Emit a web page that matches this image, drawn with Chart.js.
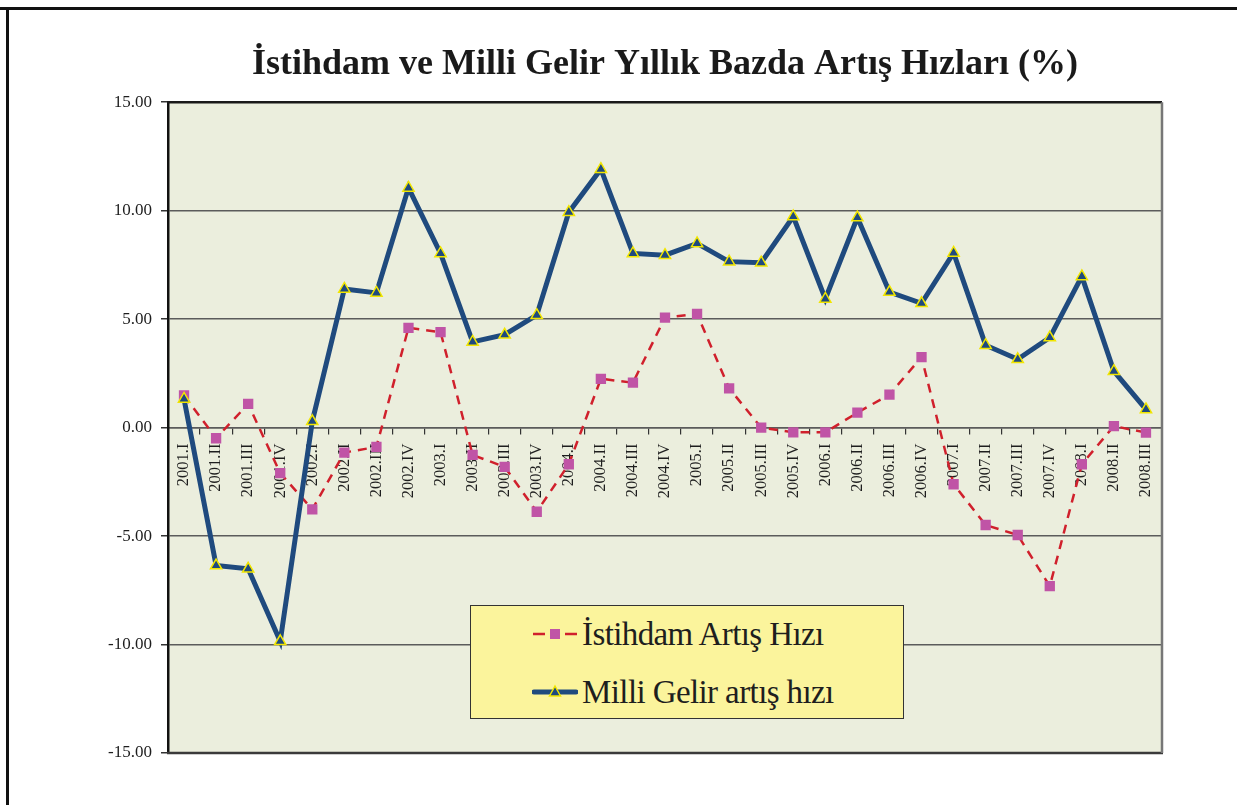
<!DOCTYPE html>
<html>
<head>
<meta charset="utf-8">
<script src="https://cdn.jsdelivr.net/npm/chart.js@4/dist/chart.umd.min.js"></script>
<style>
  html, body { margin: 0; padding: 0; background: #ffffff; }
  #wrap { position: relative; width: 1237px; height: 805px; overflow: hidden; }
  #legend {
    position: absolute; left: 470px; top: 605px; width: 432px; height: 112px;
    background: #FBF49C; border: 1.5px solid #333333;
    font-family: "Liberation Serif", "Times New Roman", serif; color: #1e1e1e;
  }
  .row { position: absolute; left: 0; height: 40px; display: flex; align-items: center; }
  .row svg { margin-left: 61px; margin-right: 4px; }
  .row span { font-size: 33px; letter-spacing: -0.6px; white-space: nowrap; }
</style>
</head>
<body>
<div id="wrap">
  <canvas id="c" width="1237" height="805"></canvas>
  <div id="legend">
    <div class="row" style="top:8px">
      <svg width="46" height="20" viewBox="0 0 46 20">
        <line x1="1" y1="10" x2="13" y2="10" stroke="#D0202C" stroke-width="2.5"></line>
        <line x1="33" y1="10" x2="45" y2="10" stroke="#D0202C" stroke-width="2.5"></line>
        <rect x="18" y="5" width="10" height="10" fill="#C054A6"></rect>
      </svg>
      <span>İstihdam Artış Hızı</span>
    </div>
    <div class="row" style="top:66px">
      <svg width="46" height="20" viewBox="0 0 46 20">
        <line x1="2" y1="10" x2="44" y2="10" stroke="#1F4A7E" stroke-width="5" stroke-linecap="round"></line>
        <polygon points="23,4 28.5,14 17.5,14" fill="#1F4A7E" stroke="#F2E600" stroke-width="1.5"></polygon>
      </svg>
      <span>Milli Gelir artış hızı</span>
    </div>
  </div>
</div>
<script>
const titleText = 'İstihdam ve Milli Gelir Yıllık Bazda Artış Hızları (%)';
const categories = [
  '2001.I','2001.II','2001.III','2001.IV',
  '2002.I','2002.II','2002.III','2002.IV',
  '2003.I','2003.II','2003.III','2003.IV',
  '2004.I','2004.II','2004.III','2004.IV',
  '2005.I','2005.II','2005.III','2005.IV',
  '2006.I','2006.II','2006.III','2006.IV',
  '2007.I','2007.II','2007.III','2007.IV',
  '2008.I','2008.II','2008.III'
];
const istihdamLabel = 'İstihdam Artış Hızı';
const istihdam = [
  1.48, -0.49, 1.09, -2.10,
  -3.77, -1.15, -0.89, 4.60,
  4.40, -1.26, -1.81, -3.88,
  -1.69, 2.25, 2.07, 5.07,
  5.24, 1.81, 0.00, -0.22,
  -0.22, 0.69, 1.52, 3.25,
  -2.61, -4.49, -4.95, -7.31,
  -1.69, 0.07, -0.23
];
const milliGelirLabel = 'Milli Gelir artış hızı';
const milliGelir = [
  1.32, -6.36, -6.51, -9.85,
  0.29, 6.39, 6.21, 11.05,
  8.03, 3.95, 4.28, 5.18,
  9.93, 11.91, 8.03, 7.95,
  8.49, 7.65, 7.60, 9.73,
  5.93, 9.68, 6.25, 5.73,
  8.05, 3.80, 3.15, 4.15,
  6.97, 2.60, 0.84
];
const yMin = -15, yMax = 15, yStep = 5;

const SERIF = '"Liberation Serif", "Times New Roman", serif';

const framePlugin = {
  id: 'frame',
  beforeDraw(chart) {
    const {ctx, chartArea: a} = chart;
    ctx.save();
    ctx.fillStyle = '#EBEEDD';
    ctx.fillRect(a.left, a.top, a.right - a.left, a.bottom - a.top);
    ctx.strokeStyle = '#111111';
    ctx.lineWidth = 3;
    ctx.beginPath();
    ctx.moveTo(0, 8.5); ctx.lineTo(1237, 8.5);
    ctx.moveTo(7.5, 8.5); ctx.lineTo(7.5, 805);
    ctx.stroke();
    ctx.restore();
  },
  afterDraw(chart) {
    const {ctx, chartArea: a} = chart;
    ctx.save();
    ctx.lineWidth = 2.5;
    ctx.strokeStyle = '#1a1a1a';
    ctx.beginPath();
    ctx.moveTo(a.left - 1, a.top); ctx.lineTo(a.right, a.top);
    ctx.stroke();
    ctx.strokeStyle = '#3a3a3a';
    ctx.beginPath();
    ctx.moveTo(a.left - 1, a.bottom); ctx.lineTo(a.right + 1, a.bottom);
    ctx.stroke();
    ctx.strokeStyle = '#777777';
    ctx.beginPath();
    ctx.moveTo(a.right, a.top); ctx.lineTo(a.right, a.bottom);
    ctx.stroke();
    ctx.restore();
  }
};

new Chart(document.getElementById('c'), {
  type: 'line',
  data: {
    labels: categories,
    datasets: [
      {
        label: istihdamLabel,
        data: istihdam,
        order: 1,
        borderColor: '#D0202C',
        borderWidth: 2.5,
        borderDash: [9, 7],
        pointStyle: 'rect',
        pointRadius: 7.3,
        pointBackgroundColor: '#C054A6',
        pointBorderColor: '#C054A6',
        pointBorderWidth: 0,
        tension: 0,
        fill: false
      },
      {
        label: milliGelirLabel,
        data: milliGelir,
        order: 0,
        borderColor: '#1F4A7E',
        borderWidth: 5,
        pointStyle: 'triangle',
        pointRadius: 6.5,
        pointBackgroundColor: '#1F4A7E',
        pointBorderColor: '#F2E600',
        pointBorderWidth: 1.5,
        tension: 0,
        fill: false
      }
    ]
  },
  options: {
    responsive: false,
    animation: false,
    devicePixelRatio: 1,
    layout: { padding: { top: 43, right: 75, bottom: 52, left: 0 } },
    plugins: {
      legend: { display: false },
      tooltip: { enabled: false },
      title: {
        display: true,
        text: titleText,
        fullSize: false,
        color: '#1a1a1a',
        font: { family: SERIF, size: 36, weight: 'bold', lineHeight: 1.2 },
        padding: { top: 0, bottom: 16 }
      }
    },
    scales: {
      x: {
        type: 'category',
        position: { y: 0 },
        offset: true,
        grid: {
          offset: true,
          drawOnChartArea: false,
          drawTicks: true,
          tickLength: 6,
          color: '#333333',
          lineWidth: 1.2
        },
        border: { display: true, color: '#5b5b5b', width: 1.5 },
        ticks: {
          autoSkip: false,
          maxRotation: 90,
          minRotation: 90,
          padding: 10,
          color: '#1e1e1e',
          font: { family: SERIF, size: 16.5 }
        }
      },
      y: {
        min: yMin,
        max: yMax,
        afterFit(scale) { scale.width = 168; },
        grid: {
          color: '#5b5b5b',
          lineWidth: 1.5,
          drawTicks: true,
          tickLength: 7,
          tickColor: '#333333'
        },
        border: { display: true, color: '#111111', width: 2.5 },
        ticks: {
          stepSize: yStep,
          padding: 9,
          color: '#1e1e1e',
          font: { family: SERIF, size: 17 },
          callback: v => Number(v).toFixed(2)
        }
      }
    }
  },
  plugins: [framePlugin]
});
</script>
</body>
</html>
